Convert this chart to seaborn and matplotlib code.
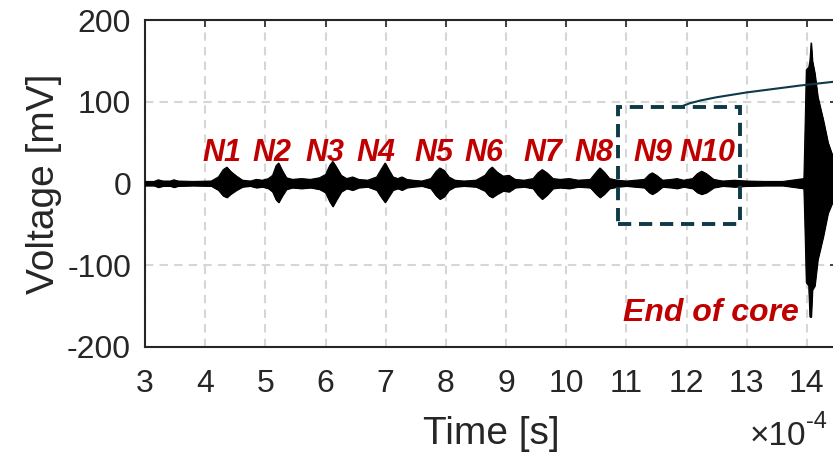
import numpy as np
import pandas as pd
import matplotlib
matplotlib.use('Agg')
import matplotlib.pyplot as plt
import seaborn as sns
from matplotlib.patches import Rectangle, PathPatch
from matplotlib.path import Path

# Signal envelope (time in 1e-4 s, voltage in mV)
t = [3.00, 3.15, 3.22, 3.30, 3.42, 3.48, 3.55, 3.80, 4.10, 4.22, 4.30, 4.36, 4.42, 4.52,
     4.62, 4.75, 4.85, 4.95, 5.05, 5.12, 5.18, 5.22, 5.28, 5.35, 5.45, 5.60, 5.75, 5.90,
     6.00, 6.07, 6.12, 6.18, 6.26, 6.35, 6.45, 6.55, 6.70, 6.85, 6.93, 6.99, 7.05, 7.12,
     7.20, 7.27, 7.35, 7.45, 7.60, 7.75, 7.84, 7.90, 7.97, 8.05, 8.15, 8.30, 8.50, 8.65,
     8.72, 8.77, 8.85, 8.95, 9.05, 9.15, 9.30, 9.45, 9.53, 9.60, 9.68, 9.78, 9.90, 10.05,
     10.20, 10.40, 10.50, 10.56, 10.63, 10.72, 10.85, 11.00, 11.15, 11.30, 11.38, 11.43,
     11.50, 11.60, 11.75, 11.84, 11.95, 12.10, 12.18, 12.25, 12.33, 12.45, 12.60, 12.80,
     13.00, 13.30, 13.60, 13.85, 13.95, 13.97, 13.99, 14.03, 14.05, 14.07, 14.09, 14.13,
     14.18, 14.27, 14.35, 14.43, 14.55]
upper = [2.5, 2.5, 4.5, 3, 3, 4.5, 3, 2.5, 3, 8, 17, 20, 15, 9,
         4, 3, 5, 4, 6, 10, 22, 25, 16, 7, 5, 6, 5, 7,
         11, 22, 27, 20, 10, 6, 8, 5, 4, 8, 18, 25, 17, 8,
         6, 8, 5, 4, 3, 6, 15, 19, 16, 8, 4, 3, 4, 10,
         17, 20, 14, 9, 10, 5, 4, 6, 13, 17, 13, 6, 5, 6,
         4, 5, 14, 19, 14, 6, 4, 3, 4, 5, 11, 13,
         10, 4, 5, 6, 4, 6, 12, 15, 12, 5, 3, 4,
         3, 2.5, 2.5, 5, 6, 70, 139, 142, 150, 172, 150, 135,
         106, 78, 50, 33, 15]
lower = [-2.5, -2.5, -4.5, -3, -3, -4.5, -3, -2.5, -3, -8, -15, -17, -13, -8,
         -4, -3, -5, -4, -6, -10, -20, -23, -15, -7, -5, -6, -5, -7,
         -11, -22, -28, -20, -10, -6, -8, -5, -4, -8, -17, -23, -16, -8,
         -6, -8, -5, -4, -3, -6, -15, -19, -16, -8, -4, -3, -4, -9,
         -15, -17, -13, -9, -10, -5, -4, -6, -14, -19, -14, -6, -5, -6,
         -4, -5, -13, -17, -13, -6, -4, -3, -4, -5, -11, -13,
         -10, -4, -5, -6, -4, -6, -11, -13, -11, -5, -3, -4,
         -3, -2.5, -2.5, -5, -6, -60, -121, -125, -163, -163, -130, -125,
         -93, -65, -36, -22, -10]

# Event labels
labels = ['N1', 'N2', 'N3', 'N4', 'N5', 'N6', 'N7', 'N8', 'N9', 'N10']
label_x = [4.28, 5.11, 5.99, 6.84, 7.80, 8.63, 9.61, 10.46, 11.44, 12.34]
label_y = 27

x_ticks = list(range(3, 15))
y_ticks = [-200, -100, 0, 100, 200]

df = pd.DataFrame({'t': t, 'upper': upper, 'lower': lower})

sns.set_style('white')
plt.rcParams['font.family'] = ['Liberation Sans', 'DejaVu Sans']

fig = plt.figure(figsize=(8.33, 4.55), dpi=100)
ax = fig.add_axes([145 / 833, 108 / 455, (837 - 145) / 833, 327 / 455])

red = '#c00000'
teal = '#0e3a47'
dark = '#262626'

ax.fill_between(df['t'], df['lower'], df['upper'], color='black', linewidth=0.8,
                edgecolor='black', zorder=3)
sns.lineplot(data=df, x='t', y='upper', color='black', linewidth=0.8, ax=ax, zorder=3)
sns.lineplot(data=df, x='t', y='lower', color='black', linewidth=0.8, ax=ax, zorder=3)

ax.set_xlim(3, 14.5)
ax.set_ylim(-200, 200)
ax.set_xticks(x_ticks)
ax.set_yticks(y_ticks)
ax.set_xticklabels([str(v) for v in x_ticks])
ax.set_yticklabels([str(v) for v in y_ticks])

ax.set_axisbelow(True)
ax.grid(True, linestyle=(0, (4, 3)), color='#d6d6d6', linewidth=1.5)

for s in ax.spines.values():
    s.set_color(dark)
    s.set_linewidth(1.5)
ax.tick_params(direction='in', length=5, width=1.2, colors=dark, labelsize=23,
               top=True, right=True)
ax.tick_params(axis='x', pad=16)
ax.tick_params(axis='y', pad=10)

ax.set_xlabel('Time [s]', fontsize=28, color=dark, labelpad=12)
ax.set_ylabel('Voltage [mV]', fontsize=28, color=dark, labelpad=4)

for lab, lx in zip(labels, label_x):
    ax.text(lx, label_y, lab, color=red, fontsize=22, fontweight='bold',
            fontstyle='italic', ha='center', va='baseline', zorder=5)
ax.text(10.94, -168, 'End of core', color=red, fontsize=23, fontweight='bold',
        fontstyle='italic', ha='left', va='baseline', zorder=5)

# zoom box and connector
ax.add_patch(Rectangle((10.86, -49), 2.02, 142, fill=False, edgecolor=teal,
                       linewidth=2.8, linestyle=(0, (3.4, 2)), zorder=6))
curve = Path([(11.89, 93), (12.12, 106), (14.45, 124.5)],
             [Path.MOVETO, Path.CURVE3, Path.CURVE3])
ax.add_patch(PathPatch(curve, fill=False, edgecolor=teal, linewidth=1.5,
                       zorder=6, clip_on=False))

# exponent of the time axis
fig.text(750 / 833, 10 / 455, '\u00d710', fontsize=24, color=dark,
         ha='left', va='baseline')
fig.text(806 / 833, 27 / 455, '-4', fontsize=17, color=dark,
         ha='left', va='baseline')

fig.savefig('out.png', dpi=100)
